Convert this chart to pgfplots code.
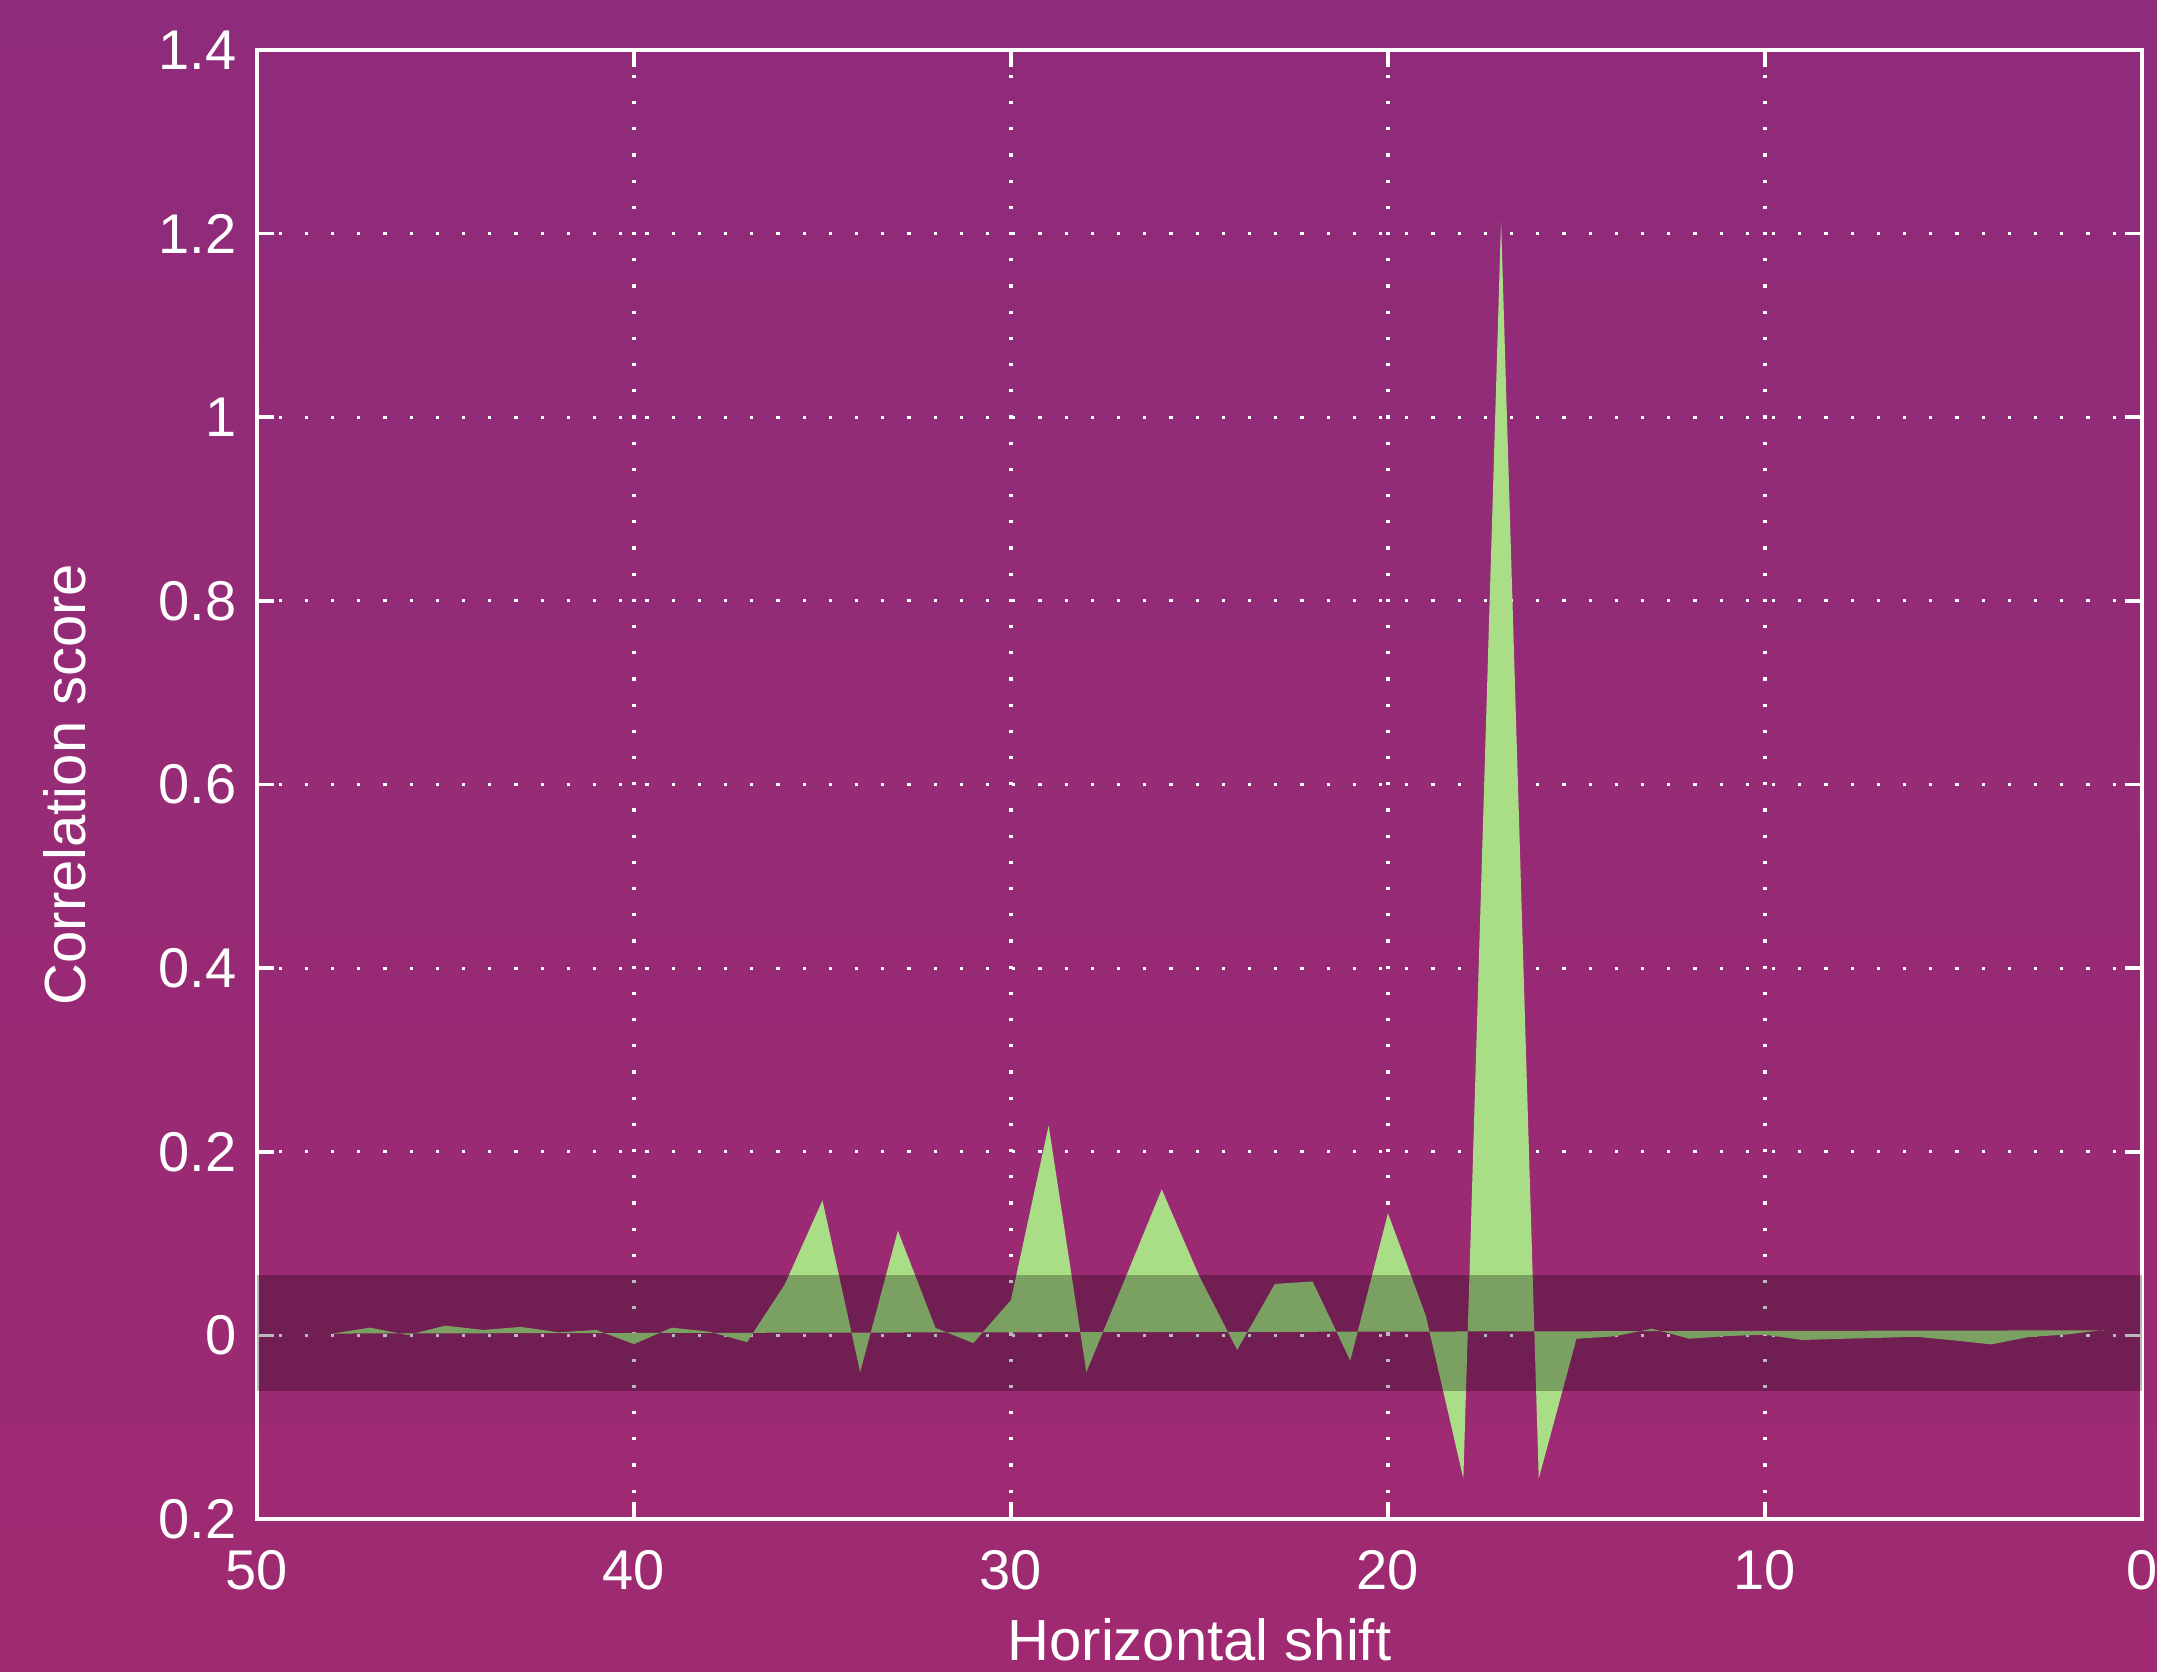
\documentclass[border=0pt]{standalone}
\usepackage{pgfplots}
\pgfplotsset{compat=1.18}
\usepackage{fontspec}
\setmainfont{Liberation Sans}
\definecolor{bgtop}{RGB}{142,43,122}
\definecolor{bgbot}{RGB}{159,42,113}
\definecolor{fillgreen}{RGB}{169,222,135}

\begin{document}
\begin{tikzpicture}
\shade[bottom color=bgbot, top color=bgtop, use as bounding box] (-64.25pt,-38.25pt) rectangle (475pt,379.75pt);
\begin{axis}[
  at={(0,0)}, anchor=south west,
  scale only axis, width=471.25pt, height=367.25pt,
  xmin=0, xmax=50, ymin=-0.2, ymax=1.4,
  x dir=reverse,
  xtick={0,10,20,30,40,50},
  ytick={-0.2,0,0.2,0.4,0.6,0.8,1,1.2,1.4},
  yticklabels={0.2,0,0.2,0.4,0.6,0.8,1,1.2,1.4},
  grid=major,
  major grid style={white, line width=0.8pt, dash pattern=on 0.8pt off 5.75pt},
  axis line style={white, line width=0.9pt},
  tick style={white, line width=0.9pt},
  major tick length=4.2pt,
  tick align=inside,
  tick pos=both,
  font=\fontsize{14}{16}\selectfont,
  /pgf/number format/assume math mode=true,
  every tick label/.append style={white, font=\fontsize{14}{16}\selectfont},
  yticklabel style={anchor=east, inner sep=0pt, xshift=-5pt},
  xticklabel style={anchor=north, inner sep=0pt, yshift=-7.75pt},
  xlabel={Horizontal shift},
  ylabel={Correlation score},
  label style={font=\fontsize{14.5}{16}\selectfont},
  xlabel style={white, at={(axis description cs:0.5,-0.096)}, anchor=base},
  ylabel style={white, at={(axis description cs:-0.1019,0.5)}, anchor=center},
]
\addplot[fill=fillgreen, draw=none] coordinates {
(48,0.002) (47,0.0084) (46,0.0004) (45,0.0106) (44,0.0059) (43,0.0092) (42,0.0033) (41,0.0059)
(40,-0.0095) (39,0.0084) (38,0.004) (37,-0.0073) (36,0.0554) (35,0.147) (34,-0.040) (33,0.114)
(32,0.008) (31,-0.0084) (30,0.0385) (29,0.2286) (28,-0.040) (27,0.059) (26,0.159) (25,0.064)
(24,-0.0158) (23,0.056) (22,0.0587) (21,-0.0275) (20,0.133) (19,0.022) (18,-0.156) (17,1.214)
(16,-0.156) (15,-0.0037) (14,-0.001) (13,0.0072) (12,-0.0036) (11,-0.0007) (10,0.0007) (9,-0.005)
(8,-0.0038) (7,-0.0027) (6,-0.0015) (5,-0.0054) (4,-0.0098) (3,-0.0018) (2,0.001) (1,0.006)
(1,0.0055) (48,0.002)
} -- cycle;
\addplot[fill=black, fill opacity=0.27, draw=none] coordinates {
(50,-0.0605) (0,-0.0605) (0,0.066) (50,0.066)
} -- cycle;
\end{axis}
\end{tikzpicture}
\end{document}
